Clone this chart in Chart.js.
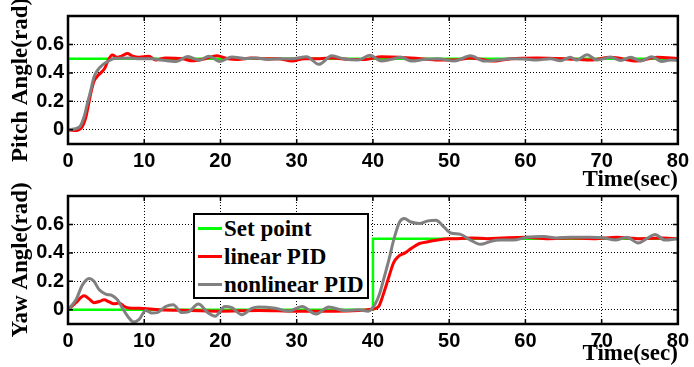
<!DOCTYPE html>
<html lang="en">
<head>
<meta charset="UTF-8">
<title>Pitch and Yaw Angle</title>
<style>
    * { margin: 0; padding: 0; }
    body { background: #fff; width: 694px; height: 367px; overflow: hidden; position: relative; }
    #pitchChart { position: absolute; left: 0; top: 0; }
    #yawChart { position: absolute; left: 0; top: 180px; }
    .legend {
        position: absolute; left: 193px; top: 213px; width: 172px; height: 82px;
        border: 2px solid #000; background: #fff;
        font: bold 23px 'Liberation Serif', 'Times New Roman', serif; color: #000;
    }
    .legend .row { position: absolute; left: 0; height: 28px; line-height: 28px; white-space: nowrap; }
    .legend .sw { position: absolute; left: 3px; top: 12px; width: 24px; height: 3px; }
    .legend .txt { position: absolute; left: 29px; top: 0; }
</style>
</head>
<body>
<canvas id="pitchChart" width="694" height="194"></canvas>
<canvas id="yawChart" width="694" height="188"></canvas>
<div class="legend" id="legend"></div>

<script src="https://cdn.jsdelivr.net/npm/chart.js"></script>
<script>
// tick labels
const xTicks = [0, 10, 20, 30, 40, 50, 60, 70, 80];
const yTicks = [0, 0.2, 0.4, 0.6];

// series names / colours
const seriesNames = ['Set point', 'linear PID', 'nonlinear PID'];
const seriesColors = ['#00ff00', '#ff0000', '#808080'];

// pitch angle
const pitchSetT = [0, 0, 80];
const pitchSetV = [0, 0.5, 0.5];
const pitchLinT = [0, 0.8, 1.7, 2.3, 3.0, 3.4, 3.9, 4.3, 4.8, 5.2, 5.8, 6.5, 7.1, 7.8, 8.4, 9.3, 10.6, 11.5, 12.8, 15, 16.3, 18, 19.5, 21, 22.3, 24, 25.7, 27.5, 29.4, 31, 33, 34.7, 37, 39, 41.1, 43.5, 46.2, 48.5, 50.7, 52.8, 55.9, 58.1, 61.5, 65, 68.5, 71.2, 74.7, 77.3, 80];
const pitchLinV = [0, -0.005, 0.01, 0.08, 0.26, 0.34, 0.38, 0.40, 0.43, 0.48, 0.525, 0.51, 0.52, 0.536, 0.52, 0.51, 0.517, 0.49, 0.505, 0.5, 0.485, 0.5, 0.52, 0.5, 0.495, 0.505, 0.5, 0.5, 0.483, 0.5, 0.5, 0.505, 0.494, 0.494, 0.513, 0.51, 0.5, 0.49, 0.49, 0.505, 0.483, 0.5, 0.505, 0.5, 0.49, 0.51, 0.483, 0.51, 0.5];
const pitchNlT = [0, 1.5, 2.1, 2.5, 3.0, 3.4, 3.9, 4.5, 5.2, 5.8, 6.7, 8, 9.1, 11.0, 12.3, 14.2, 15.7, 17.2, 18.5, 19.9, 21.5, 23.3, 24.6, 26.3, 28.1, 29.4, 31.3, 32.9, 34.6, 36.3, 38, 39.6, 41.1, 42.4, 43.7, 45, 46.8, 48.5, 50.7, 52.8, 54.6, 56.3, 58.1, 59.8, 61.5, 63.3, 64.6, 65.9, 66.7, 68.1, 69.4, 71.2, 72.5, 73.8, 75.1, 76.6, 77.9, 79, 80];
const pitchNlV = [0, 0.02, 0.09, 0.175, 0.28, 0.37, 0.42, 0.455, 0.48, 0.497, 0.503, 0.505, 0.5, 0.5, 0.49, 0.48, 0.515, 0.488, 0.517, 0.48, 0.512, 0.5, 0.505, 0.495, 0.5, 0.5, 0.514, 0.46, 0.52, 0.497, 0.49, 0.524, 0.483, 0.495, 0.51, 0.483, 0.495, 0.5, 0.483, 0.52, 0.483, 0.49, 0.5, 0.497, 0.49, 0.5, 0.485, 0.51, 0.49, 0.527, 0.49, 0.51, 0.487, 0.51, 0.483, 0.513, 0.48, 0.49, 0.487];

// yaw angle
const yawSetT = [0, 40, 40, 80];
const yawSetV = [0, 0, 0.5, 0.5];
const yawLinT = [0, 1.04, 2.1, 2.8, 3.4, 4.1, 4.74, 5.4, 6.0, 6.7, 7.4, 8, 9.3, 12, 16, 20, 25, 30, 35, 38.1, 39.8, 40.7, 41.4, 42.1, 42.7, 43.3, 44.2, 45, 46.1, 47.2, 48.5, 49.8, 51.1, 53, 55, 57, 60, 63, 66, 69, 72, 75, 78, 80];
const yawLinV = [0, 0.05, 0.098, 0.075, 0.05, 0.058, 0.07, 0.055, 0.042, 0.047, 0.023, 0.012, 0.01, 0.0, -0.005, -0.01, -0.005, -0.01, -0.01, -0.005, 0.004, 0.02, 0.115, 0.233, 0.33, 0.373, 0.4, 0.43, 0.466, 0.478, 0.49, 0.5, 0.5, 0.505, 0.5, 0.505, 0.51, 0.5, 0.505, 0.5, 0.51, 0.5, 0.505, 0.5];
const yawNlT = [0, 1.04, 1.9, 2.78, 3.4, 4.1, 4.95, 5.8, 6.5, 7.13, 8.0, 8.6, 9.3, 10.2, 11.0, 11.7, 12.8, 13.8, 14.9, 15.8, 17.1, 18.4, 19.3, 20.6, 21.5, 22.8, 24.1, 25, 27.2, 28.9, 30.7, 32.5, 34.2, 36.3, 38.1, 39.4, 40.3, 40.9, 41.5, 42.2, 42.6, 43.1, 43.5, 44.1, 45, 46.1, 47.2, 48.3, 49.1, 50.2, 51.5, 52.8, 54.1, 55.4, 56.7, 58.4, 60.2, 62.4, 64.1, 65.9, 68.5, 70.2, 71.8, 73.3, 74.8, 75.9, 77, 78.3, 80];
const yawNlV = [0, 0.07, 0.175, 0.22, 0.2, 0.14, 0.11, 0.1, 0.07, 0.012, -0.058, -0.086, -0.07, -0.005, -0.023, -0.02, 0.023, 0.035, -0.02, -0.015, 0.04, -0.023, -0.045, 0.023, 0.015, -0.035, 0.01, 0.02, 0.01, -0.01, 0.023, -0.03, 0.02, -0.005, 0, -0.01, 0.04, 0.117, 0.233, 0.373, 0.466, 0.56, 0.617, 0.641, 0.617, 0.606, 0.625, 0.63, 0.594, 0.54, 0.53, 0.49, 0.46, 0.48, 0.49, 0.49, 0.51, 0.515, 0.505, 0.51, 0.51, 0.506, 0.49, 0.51, 0.47, 0.5, 0.53, 0.49, 0.5];

function pts(t, v) {
    return t.map((x, i) => ({ x: x, y: v[i] }));
}

// frame round the plot area plus small inward tick marks
const framePlugin = {
    id: 'frame',
    afterDatasetsDraw(chart) {
        const { ctx, chartArea: a, scales: { x, y } } = chart;
        ctx.save();
        ctx.strokeStyle = '#000';
        ctx.lineWidth = 1.5;
        ctx.beginPath();
        x.ticks.forEach(t => {
            const px = x.getPixelForValue(t.value);
            ctx.moveTo(px, a.top); ctx.lineTo(px, a.top + 5);
            ctx.moveTo(px, a.bottom); ctx.lineTo(px, a.bottom - 5);
        });
        y.ticks.forEach(t => {
            const py = y.getPixelForValue(t.value);
            ctx.moveTo(a.left, py); ctx.lineTo(a.left + 5, py);
            ctx.moveTo(a.right, py); ctx.lineTo(a.right - 5, py);
        });
        ctx.stroke();
        ctx.lineWidth = 2.5;
        ctx.strokeRect(a.left, a.top, a.width, a.height);
        ctx.restore();
    }
};

function makeChart(id, H, yTitle, set, lin, nl) {
    const tickFont = { family: "'Liberation Sans', Arial, sans-serif", weight: 'bold', size: 20 };
    const titleFont = { family: "'Liberation Serif', 'Times New Roman', serif", weight: 'bold', size: 23 };
    return new Chart(document.getElementById(id), {
        type: 'line',
        data: {
            datasets: [
                { label: seriesNames[0], data: set, borderColor: seriesColors[0], borderWidth: 2.5, tension: 0, order: 2 },
                { label: seriesNames[1], data: lin, borderColor: seriesColors[1], borderWidth: 3, cubicInterpolationMode: 'monotone', order: 1 },
                { label: seriesNames[2], data: nl, borderColor: seriesColors[2], borderWidth: 3, cubicInterpolationMode: 'monotone', order: 0 }
            ]
        },
        options: {
            responsive: false,
            animation: false,
            events: [],
            elements: { point: { radius: 0 } },
            layout: { padding: { left: 7, top: 15, right: 12, bottom: 0 } },
            plugins: { legend: { display: false }, tooltip: { enabled: false } },
            scales: {
                x: {
                    type: 'linear', min: 0, max: 80,
                    afterBuildTicks: s => { s.ticks = xTicks.map(v => ({ value: v })); },
                    afterFit: s => { s.height = H - 144; },
                    ticks: { font: tickFont, color: '#000', padding: 5, maxRotation: 0, autoSkip: false },
                    grid: { color: '#000', lineWidth: 1, drawTicks: false },
                    border: { display: false, dash: [1, 2] },
                    title: { display: true, text: 'Time(sec)', align: 'end', font: titleFont, color: '#000', padding: 0 }
                },
                y: {
                    type: 'linear', min: -0.1, max: 0.8,
                    afterBuildTicks: s => { s.ticks = yTicks.map(v => ({ value: v })); },
                    afterFit: s => { s.width = 61; },
                    ticks: { font: tickFont, color: '#000', padding: 4, callback: v => String(v) },
                    grid: { color: '#000', lineWidth: 1, drawTicks: false },
                    border: { display: false, dash: [1, 2] },
                    title: { display: true, text: yTitle, font: titleFont, color: '#000', padding: 0 }
                }
            }
        },
        plugins: [framePlugin]
    });
}

makeChart('pitchChart', 194, 'Pitch Angle(rad)',
    pts(pitchSetT, pitchSetV), pts(pitchLinT, pitchLinV), pts(pitchNlT, pitchNlV));
makeChart('yawChart', 188, 'Yaw Angle(rad)',
    pts(yawSetT, yawSetV), pts(yawLinT, yawLinV), pts(yawNlT, yawNlV));

// legend box
const legend = document.getElementById('legend');
seriesNames.forEach((name, i) => {
    const row = document.createElement('div');
    row.className = 'row';
    row.style.top = (i * 28) + 'px';
    row.innerHTML = '<span class="sw" style="background:' + seriesColors[i] + '"></span><span class="txt">' + name + '</span>';
    legend.appendChild(row);
});
</script>
</body>
</html>
